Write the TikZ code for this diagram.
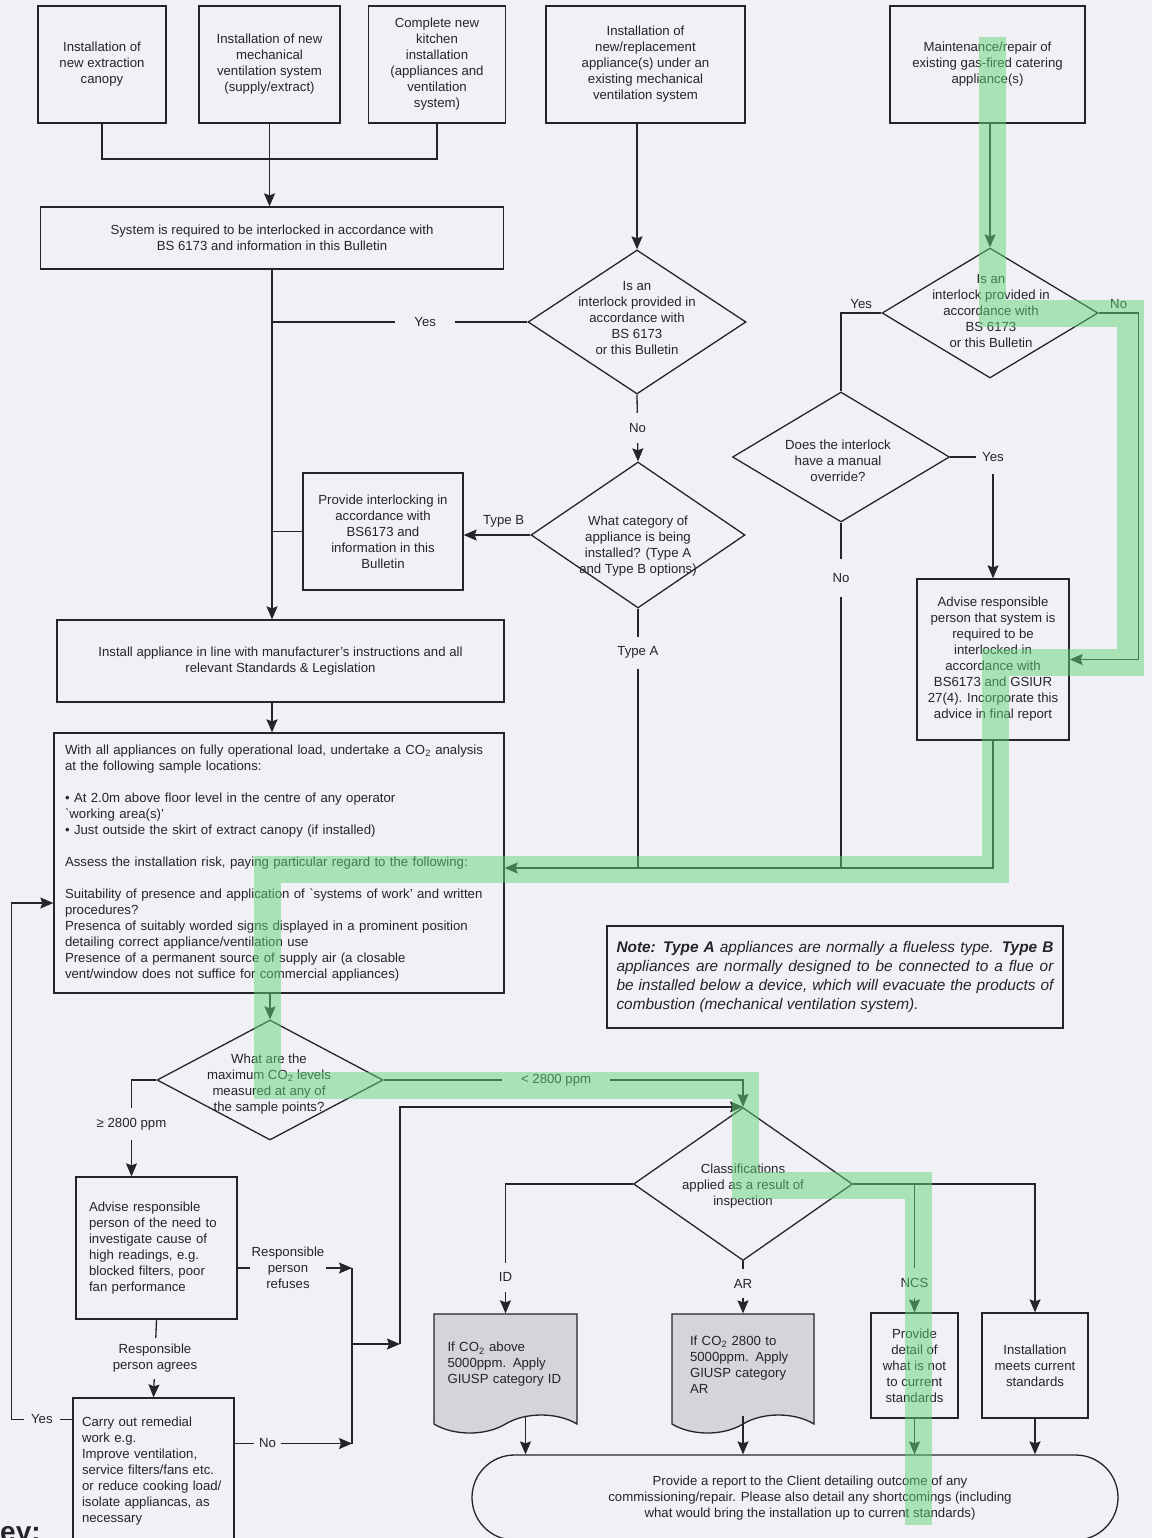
\documentclass[tikz,border=0pt]{standalone}
\usepackage{fontspec}
\setmainfont{Liberation Sans}
\usepackage{tikz}
\usetikzlibrary{calc,arrows.meta,shapes.geometric,shapes.misc,shapes.symbols}
\definecolor{paper}{RGB}{241,241,245}
\definecolor{ink}{RGB}{36,36,42}
\definecolor{docgray}{RGB}{212,212,218}
\definecolor{hlgreen}{RGB}{96,212,118}
\tikzstyle{line} = [draw=ink, line width=1.3pt]
\tikzstyle{box} = [draw=ink, line width=1.3pt, rectangle, inner sep=0pt, align=center]
\tikzstyle{topbox} = [box, minimum height=117pt]
\tikzstyle{leftbox} = [box, align=left]
\tikzstyle{decision} = [draw=ink, line width=1.3pt, diamond, inner sep=0pt]
\tikzstyle{qtext} = [align=center, inner sep=0pt]
\tikzstyle{doc} = [draw=ink, fill=docgray, line width=1.3pt, tape, tape bend top=none, tape bend bottom=in and out, tape bend height=18pt, inner sep=0pt, align=left]
\tikzstyle{terminal} = [draw=ink, line width=1.3pt, rounded rectangle, inner sep=0pt, align=center]
\tikzstyle{lbl} = [fill=paper, inner sep=3pt]
\tikzstyle{vlbl} = [lbl, inner ysep=10pt]
\tikzstyle{hlbl} = [lbl, inner xsep=19pt]
\tikzstyle{highlight} = [draw=hlgreen, opacity=0.5, line width=27pt]

\begin{document}
\begin{tikzpicture}[x=1pt, y=-1pt, >={Stealth[length=13pt,width=11pt,inset=2pt]}, text=ink, font=\fontsize{13.2}{16}\selectfont]

\useasboundingbox (0,0) rectangle (1152,1538);
\clip (0,0) rectangle (1152,1538);
\fill[paper] (0,0) rectangle (1152,1538);

% starting points
\node (inst1) [topbox, minimum width=128pt] at (102,64.5)   {Installation of\\new extraction\\canopy};
\node (inst2) [topbox, minimum width=141pt] at (269.5,64.5) {Installation of new\\mechanical\\ventilation system\\(supply/extract)};
\node (inst3) [topbox, minimum width=137pt] at (437,64.5)   {Complete new\\kitchen\\installation\\(appliances and\\ventilation\\system)};
\node (inst4) [topbox, minimum width=199pt] at (645.5,64.5) {Installation of\\new/replacement\\appliance(s) under an\\existing mechanical\\ventilation system};
\node (inst5) [topbox, minimum width=195pt] at (987.5,64.5) {Maintenance/repair of\\existing gas-fired catering\\appliance(s)};

% left column
\node (sysbox)  [box, minimum width=463pt, minimum height=62pt] at (272,238) {System is required to be interlocked in accordance with\\BS 6173 and information in this Bulletin};
\node (provide) [box, minimum width=160pt, minimum height=117pt] at (383,531.5) {Provide interlocking in\\accordance with\\BS6173 and\\information in this\\Bulletin};
\node (install) [box, minimum width=447pt, minimum height=82pt] at (280.5,661) {Install appliance in line with manufacturer's instructions and all\\relevant Standards \& Legislation};
\node (withall) [leftbox, minimum width=450pt, minimum height=260pt, text width=428pt] at (279,863)
  {With all appliances on fully operational load, undertake a CO\textsubscript{2} analysis\\
   at the following sample locations:\\[16pt]
   • At 2.0m above floor level in the centre of any operator\\
   \textasciigrave working area(s)'\\
   • Just outside the skirt of extract canopy (if installed)\\[16pt]
   Assess the installation risk, paying particular regard to the following:\\[16pt]
   Suitability of presence and application of \textasciigrave systems of work' and written\\
   procedures?\\
   Presenca of suitably worded signs displayed in a prominent position\\
   detailing correct appliance/ventilation use\\
   Presence of a permanent source of supply air (a closable\\
   vent/window does not suffice for commercial appliances)};
\coordinate (backin) at ([yshift=-5pt]withall.east);

% decisions
\node (q1) [decision, minimum width=218pt, minimum height=144pt] at (637,322) {};
\node (q1txt) [qtext] at (637,318) {Is an\\interlock provided in\\accordance with\\BS 6173\\or this Bulletin};
\node (q2) [decision, minimum width=214pt, minimum height=146pt] at (638,535) {};
\node (q2txt) [qtext] at (638,546) {What category of\\appliance is being\\installed? (Type A\\and Type B options)};
\node (q3) [decision, minimum width=216pt, minimum height=130pt] at (990,313) {};
\node (q3txt) [qtext] at (991,311) {Is an\\interlock provided in\\accordance with\\BS 6173\\or this Bulletin};
\node (q4) [decision, minimum width=217pt, minimum height=130pt] at (841,457) {};
\node (q4txt) [qtext] at (838,461) {Does the interlock\\have a manual\\override?};
\node (advise) [box, minimum width=152pt, minimum height=161pt] at (993,659.5) {Advise responsible\\person that system is\\required to be\\interlocked in\\accordance with\\BS6173 and GSIUR\\27(4). Incorporate this\\advice in final report};

% note
\node (note) [box, minimum width=456pt, minimum height=102pt, text width=437pt, align=justify, font=\fontsize{15.4}{19}\selectfont\itshape] at (835,977)
  {\textbf{Note: Type A} appliances are normally a flueless type. \textbf{Type B}\linebreak
   appliances are normally designed to be connected to a flue or\linebreak
   be installed below a device, which will evacuate the products of\linebreak
   combustion (mechanical ventilation system).};

% CO2 check
\node (q5) [decision, minimum width=226pt, minimum height=120pt] at (270,1080) {};
\node (q5txt) [qtext] at (269,1084) {What are the\\maximum CO\textsubscript{2} levels\\measured at any of\\the sample points?};
\node (advise2)  [leftbox, minimum width=161pt, minimum height=142pt, text width=135pt] at (156.5,1248) {Advise responsible\\person of the need to\\investigate cause of\\high readings, e.g.\\blocked filters, poor\\fan performance};
\node (remedial) [leftbox, minimum width=161pt, minimum height=147pt, text width=143pt] at (153.5,1471.5) {Carry out remedial\\work e.g.\\Improve ventilation,\\service filters/fans etc.\\or reduce cooking load/\\isolate appliancas, as\\necessary};
\coordinate (gtop) at (352,1268);
\coordinate (gbot) at (352,1443.5);
\coordinate (gmid) at (352,1344);
\coordinate (riser) at (400,1344);

% classifications
\node (q6) [decision, minimum width=219pt, minimum height=153pt] at (743,1184) {};
\node (q6txt) [qtext] at (743,1186) {Classifications\\applied as a result of\\inspection};
\node (iddoc)  [doc, minimum width=143pt, minimum height=119pt, text width=116pt] at (505.5,1364.5) {If CO\textsubscript{2} above\\5000ppm. Apply\\GIUSP category ID};
\node (ardoc)  [doc, minimum width=142pt, minimum height=119pt, text width=106pt] at (743,1364.5) {If CO\textsubscript{2} 2800 to\\5000ppm. Apply\\GIUSP category\\AR};
\node (detail) [box, minimum width=87pt, minimum height=105pt] at (914.5,1365.5) {Provide\\detail of\\what is not\\to current\\standards};
\node (meets)  [box, minimum width=106pt, minimum height=105pt] at (1035,1365.5) {Installation\\meets current\\standards};
\node (report) [terminal, minimum width=646pt, minimum height=85pt] at (795,1497.5) {};
\node (reporttxt) [qtext] at (810,1498) {Provide a report to the Client detailing outcome of any\\commissioning/repair. Please also detail any shortcomings (including\\what would bring the installation up to current standards)};
\coordinate (idout) at ([xshift=20pt]iddoc.south);

\node (keytxt) [anchor=north west, inner sep=0pt, font=\fontsize{28}{30}\bfseries\selectfont] at (0,1526) {ey:};

% edges, top half
\coordinate (merge) at (272,159);
\draw[line] (inst1.south) |- (merge) -| (inst3.south);
\draw[line,->] (inst2.south) -- (inst2.south |- sysbox.north);
\draw[line,->] (sysbox.south) -- (sysbox.south |- install.north);
\draw[line,->] (inst4.south -| q1.north) -- (q1.north);
\draw[line] (q1.west) -- node[hlbl, pos=0.4] {Yes} (q1.west -| sysbox.south);
\draw[line,->] (q1.south) -- node[vlbl] {No} (q2.north);
\draw[line,->] (q2.west) -- node[above=4pt, pos=0.4] {Type B} (q2.west -| provide.east);
\draw[line] (provide.west) -- (provide.west -| sysbox.south);
\draw[line] (q2.south) -- node[vlbl, pos=0.17] {Type A} (q2.south |- backin);
\draw[line,->] (install.south -| sysbox.south) -- (withall.north -| sysbox.south);
\draw[line,->] (inst5.south -| q3.north) -- (q3.north);
\draw[line] (q3.west) -| node[above, pos=0.25] {Yes} (q4.north);
\draw[line,->] (q3.east) -- node[above] {No} ++(40,0) |- (advise.east);
\draw[line,->] (q4.east) -| node[lbl, pos=0.5, inner xsep=6pt, inner ysep=12pt] {Yes} (advise.north);
\draw[line] (q4.south) -- node[vlbl, pos=0.16, inner ysep=14pt] {No} (q4.south |- backin);
\draw[line,->] (advise.south) |- (backin);

% edges, bottom half
\draw[line,->] (q5.north |- withall.south) -- (q5.north);
\draw[line,->] (q5.east) -| node[hlbl, pos=0.24] {\textless\ 2800 ppm} (q6.north);
\draw[line,->] (q5.west) -| node[vlbl, pos=0.73] {≥ 2800 ppm} ([xshift=-25pt]advise2.north);
\draw[line,->] ([yshift=-20pt]advise2.east) -- node[lbl, pos=0.44, align=center, inner xsep=2pt, inner ysep=0pt] {Responsible\\person\\refuses} (gtop);
\draw[line,->] (advise2.south) -- node[lbl, align=center, inner ysep=6pt] {Responsible\\person agrees} (remedial.north);
\draw[line,->] ([yshift=52pt]remedial.west) -- node[lbl, inner xsep=7pt] {Yes} ++(-61,0) |- ([yshift=-40pt]withall.west);
\draw[line,->] ([yshift=28pt]remedial.east) -- node[lbl, pos=0.28, inner xsep=5pt] {No} (gbot);
\draw[line] (gtop) -- (gbot);
\draw[line,->] (gmid) -- (riser);
\draw[line,->] (riser) |- (q6.north);
\draw[line,->] (q6.west) -| node[vlbl, pos=0.86] {ID} (iddoc.north);
\draw[line,->] (q6.south) -- node[vlbl, pos=0.43] {AR} (ardoc.north);
\draw[line,->] (q6.east) -| (meets.north);
\draw[line,->] (q6.east -| detail.north) -- node[vlbl, pos=0.77] {NCS} (detail.north);
\draw[line,->] (idout) -- (idout |- report.north);
\draw[line,->] (ardoc.south) -- (ardoc.south |- report.north);
\draw[line,->] (detail.south) -- (detail.south |- report.north);
\draw[line,->] (meets.south) -- (meets.south |- report.north);

% marker pen
\draw[highlight] (992,37) -- (992,313) -- (1130,313) -- (1130,662) -- (995,662) -- (995,869)
  -- (267,869) -- (267,1085) -- (745,1085) -- (745,1185) -- (918,1185) -- (918,1525);

\end{tikzpicture}
\end{document}
